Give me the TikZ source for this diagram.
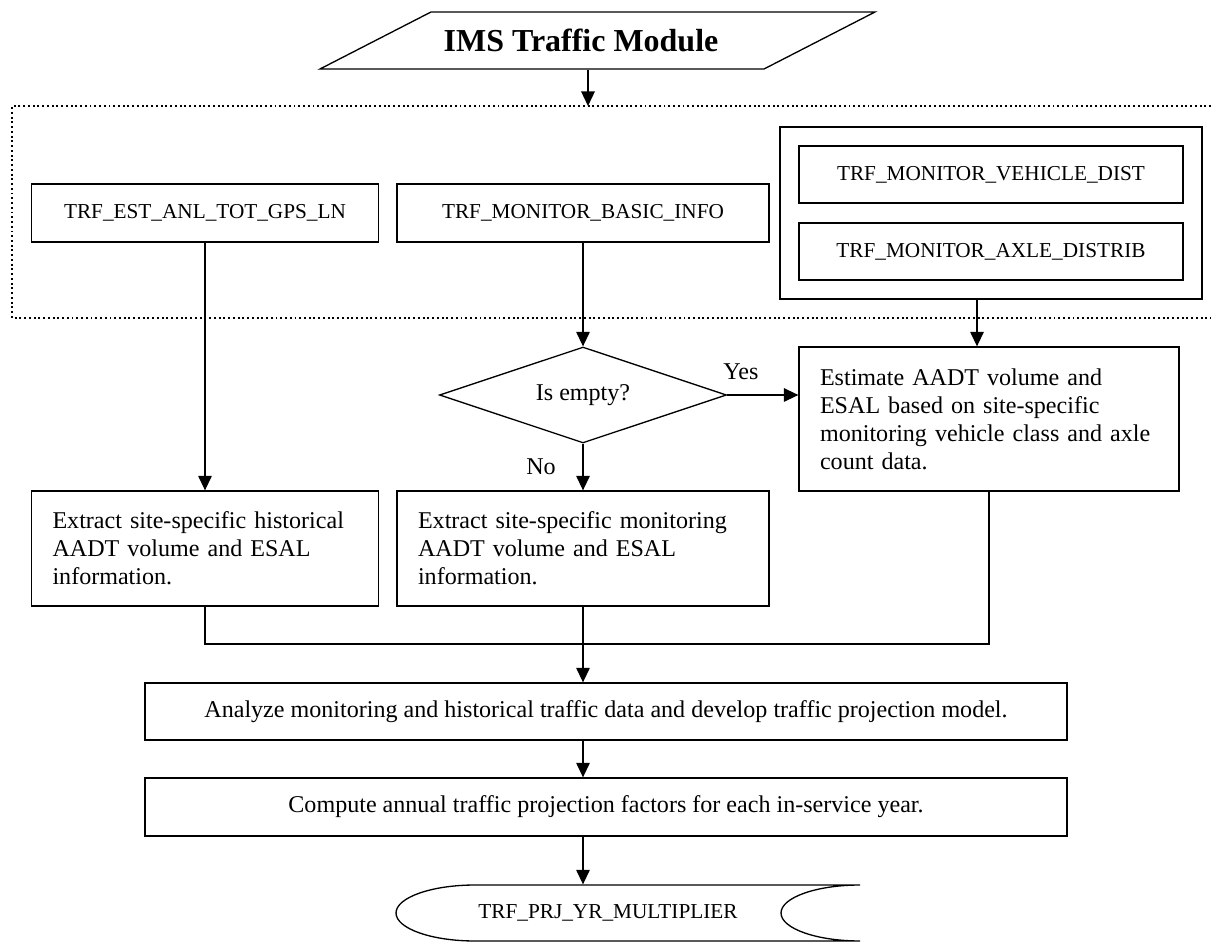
\documentclass[tikz,border=0pt]{standalone}
\usepackage{fontspec}
\setmainfont{Liberation Serif}
\usetikzlibrary{arrows.meta,shapes.geometric}

\begin{document}
\begin{tikzpicture}[
    x=0.02cm, y=-0.02cm,
    >={Triangle[length=0.29cm, width=0.27cm]},
    line width=0.75pt,
    tbl/.style={draw, align=center, inner sep=0pt, font=\fontsize{12.1}{14}\selectfont},
    proc/.style={draw, align=left, inner xsep=0.42cm, inner ysep=0pt, font=\fontsize{13.7}{16}\selectfont},
    wide/.style={draw, align=center, inner sep=0pt, minimum width=18.44cm, font=\fontsize{13.7}{16}\selectfont},
    decide/.style={draw, diamond, aspect=3, inner sep=1pt, font=\fontsize{13.7}{16}\selectfont},
    lbl/.style={inner sep=0pt, font=\fontsize{13.7}{16}\selectfont},
    region/.style={line width=1.1pt, dash pattern=on 1.1pt off 1.6pt},
    flow/.style={->}
]
% coordinates in pixels of the 1211 x 942 page, y downwards
\useasboundingbox (0,0) rectangle (1211,942);

% ---- module title ----
\draw (320,69) -- (431,12) -- (875,12) -- (764,69) -- cycle;
\node[inner sep=0pt, minimum height=1.14cm, font=\bfseries\fontsize{18.2}{22}\selectfont]
  (title) at (581,40.5) {IMS Traffic Module};
\coordinate (regtop) at (588,106);
\draw[flow] (title.south -| regtop) -- (regtop);

% ---- database tables ----
\draw[region] (1211,106) -- (12,106) -- (12,318) -- (1211,318);
\node[tbl, minimum width=6.94cm, minimum height=1.16cm] (gps) at (205,213)
  {TRF\_EST\_ANL\_TOT\_GPS\_LN};
\node[tbl, minimum width=7.44cm, minimum height=1.16cm] (basic) at (583,213)
  {TRF\_MONITOR\_BASIC\_INFO};
\node[draw, inner sep=0pt, minimum width=8.44cm, minimum height=3.44cm] (count) at (991,213) {};
\node[tbl, minimum width=7.68cm, minimum height=1.14cm] (veh) at (991,174.5)
  {TRF\_MONITOR\_VEHICLE\_DIST};
\node[tbl, minimum width=7.68cm, minimum height=1.14cm] (axle) at (991,251.5)
  {TRF\_MONITOR\_AXLE\_DISTRIB};

% ---- decision and site data ----
\node[decide, minimum width=5.74cm, minimum height=1.92cm] (empty) at (583,395) {Is empty?};
\node[proc, text width=6.76cm, minimum height=2.88cm] (est) at (989,419)
  {Estimate AADT volume and\\ESAL based on site-specific\\monitoring vehicle class and axle\\count data.};
\node[proc, text width=6.1cm, minimum height=2.3cm] (hist) at (205,548.5)
  {Extract site-specific historical\\AADT volume and ESAL\\information.};
\node[proc, text width=6.6cm, minimum height=2.3cm] (moni) at (583,548.5)
  {Extract site-specific monitoring\\AADT volume and ESAL\\information.};
\node[lbl] (yes) at (741,372) {Yes};
\node[lbl] (no) at (541,467) {No};

% ---- projection ----
\node[wide, minimum height=1.14cm] (ana) at (606,711.5)
  {Analyze monitoring and historical traffic data and develop traffic projection model.};
\node[wide, minimum height=1.16cm] (comp) at (606,807)
  {Compute annual traffic projection factors for each in-service year.};
\draw (475,885) -- (860,885) arc[start angle=90, end angle=270, x radius=1.58cm, y radius=0.56cm]
  -- (475,941) arc[start angle=270, end angle=90, x radius=1.58cm, y radius=0.56cm] -- cycle;
\node[inner sep=0pt, minimum height=1.12cm, font=\fontsize{12.1}{14}\selectfont]
  (mult) at (608,913) {TRF\_PRJ\_YR\_MULTIPLIER};

% ---- connectors ----
\draw[flow] (gps) -- (hist);
\draw[flow] (basic) -- (empty);
\draw[flow] ([xshift=-0.28cm]count.south) -- ([xshift=-0.28cm]count.south |- est.north);
\draw[flow] (empty.east) -- (empty.east -| est.west);
\draw[flow] (empty) -- (moni);
\coordinate (merge) at (583,644);
\draw (hist.south) |- (merge) -| (est.south);
\draw[flow] (moni.south) -- (moni.south |- ana.north);
\draw[flow] (ana.south -| moni.south) -- (moni.south |- comp.north);
\draw[flow] (comp.south -| moni.south) -- (moni.south |- mult.north);

\end{tikzpicture}
\end{document}
